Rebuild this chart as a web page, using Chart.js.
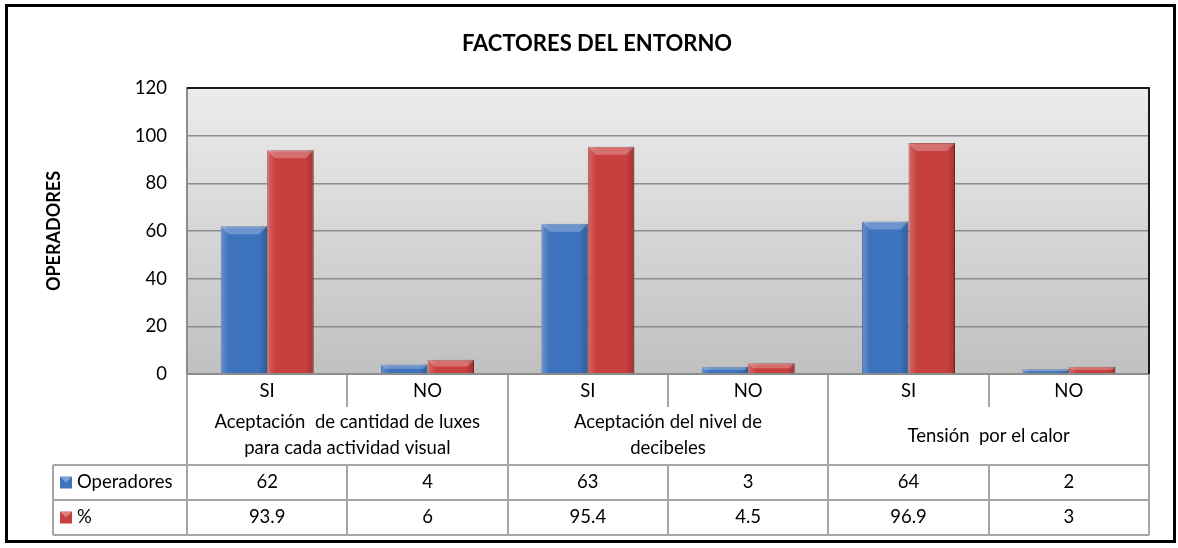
<!DOCTYPE html>
<html>
<head>
<meta charset="utf-8">
<script src="https://cdn.jsdelivr.net/npm/chart.js@4.4.1/dist/chart.umd.min.js"></script>
<style>
html, body { margin: 0; padding: 0; background: #fff; }
canvas { display: block; }
</style>
</head>
<body>
<canvas id="chart" width="1178" height="548"></canvas>
<script>
var categories = ["SI", "NO", "SI", "NO", "SI", "NO"];
var groups = [
    ["Aceptación  de cantidad de luxes", "para cada actividad visual"],
    ["Aceptación del nivel de", "decibeles"],
    ["Tensión  por el calor"]
];
var seriesNames = ["Operadores", "%"];
var operadores = [62, 4, 63, 3, 64, 2];
var porcentaje = [93.9, 6, 95.4, 4.5, 96.9, 3];
var yTicks = [0, 20, 40, 60, 80, 100, 120];

var FONT = "Lato, 'Open Sans', sans-serif";
var TXT = 18.5;
var seriesColors = ["#3d72bd", "#c8403e"];
var seriesBorders = ["#2a5995", "#8e2a29"];

// background, bar bevels, data table and frame
var excelLook = {
    id: 'excelLook',
    beforeDraw: function (chart) {
        var c = chart.ctx, a = chart.chartArea;
        c.save();
        c.fillStyle = '#fff';
        c.fillRect(0, 0, chart.width, chart.height);
        var g = c.createLinearGradient(0, a.top, 0, a.bottom);
        g.addColorStop(0, '#ececec');
        g.addColorStop(1, '#c0c0c0');
        c.fillStyle = g;
        c.fillRect(a.left, a.top, a.right - a.left, a.bottom - a.top);
        c.restore();
    },
    afterDatasetsDraw: function (chart) {
        var c = chart.ctx;
        c.save();
        chart.data.datasets.forEach(function (ds, di) {
            chart.getDatasetMeta(di).data.forEach(function (bar) {
                var p = bar.getProps(['x', 'y', 'base', 'width'], true);
                var l = p.x - p.width / 2, r = p.x + p.width / 2, t = p.y, h = p.base - p.y;
                var g = c.createLinearGradient(l, 0, r, 0);
                g.addColorStop(0, 'rgba(255,255,255,0.22)');
                g.addColorStop(0.18, 'rgba(255,255,255,0)');
                g.addColorStop(0.82, 'rgba(0,0,0,0)');
                g.addColorStop(1, 'rgba(0,0,0,0.2)');
                c.fillStyle = g;
                c.fillRect(l, t, p.width, h);
                var bv = Math.min(8, h / 2);
                c.fillStyle = 'rgba(255,255,255,0.25)';
                c.beginPath();
                c.moveTo(l, t); c.lineTo(r, t); c.lineTo(r - bv, t + bv); c.lineTo(l + bv, t + bv);
                c.closePath();
                c.fill();
            });
        });
        c.restore();
    },
    afterDraw: function (chart) {
        var c = chart.ctx, a = chart.chartArea, x = chart.scales.x;
        var half = (x.getPixelForValue(1) - x.getPixelForValue(0)) / 2;
        var y0 = a.bottom, yTick = y0 + 33, yGroup = y0 + 91, yRow1 = y0 + 126, yRow2 = y0 + 161;
        var tableLeft = 53;
        c.save();

        // table lines
        c.strokeStyle = '#a6a6a6';
        c.lineWidth = 2;
        c.beginPath();
        for (var i = 0; i <= categories.length; i++) {
            var bx = Math.round(x.getPixelForValue(0) - half + i * 2 * half);
            if (i % 2 === 0) {
                c.moveTo(bx, y0); c.lineTo(bx, yRow2);
            } else {
                c.moveTo(bx, y0); c.lineTo(bx, yTick);
                c.moveTo(bx, yGroup); c.lineTo(bx, yRow2);
            }
        }
        c.moveTo(tableLeft, yGroup); c.lineTo(tableLeft, yRow2);
        [yGroup, yRow1, yRow2].forEach(function (yy) {
            c.moveTo(tableLeft, yy); c.lineTo(a.right, yy);
        });
        c.stroke();

        // plot borders
        c.strokeStyle = '#8c8c8c';
        c.beginPath();
        c.moveTo(a.left, a.bottom); c.lineTo(a.right, a.bottom);
        c.stroke();
        c.strokeStyle = '#1a1a1a';
        c.beginPath();
        c.moveTo(a.left, a.top); c.lineTo(a.right, a.top); c.lineTo(a.right, a.bottom);
        c.stroke();

        // group labels
        c.fillStyle = '#000';
        c.font = TXT + 'px ' + FONT;
        c.textAlign = 'center';
        c.textBaseline = 'middle';
        groups.forEach(function (lines, gi) {
            var cx = (x.getPixelForValue(gi * 2) + x.getPixelForValue(gi * 2 + 1)) / 2;
            if (lines.length === 1) {
                c.fillText(lines[0], cx, y0 + 62);
            } else {
                c.fillText(lines[0], cx, y0 + 48);
                c.fillText(lines[1], cx, y0 + 74);
            }
        });

        // data rows
        var rows = [operadores, porcentaje];
        var rowY = [(yGroup + yRow1) / 2, (yRow1 + yRow2) / 2];
        rows.forEach(function (vals, ri) {
            vals.forEach(function (v, ci) {
                c.fillText(String(v), x.getPixelForValue(ci), rowY[ri]);
            });
            // legend key
            var kx = 60, ky = rowY[ri] - 6;
            c.fillStyle = seriesColors[ri];
            c.fillRect(kx, ky, 12, 12);
            c.fillStyle = 'rgba(255,255,255,0.35)';
            c.beginPath();
            c.moveTo(kx, ky); c.lineTo(kx + 12, ky); c.lineTo(kx + 6, ky + 6);
            c.closePath();
            c.fill();
            c.fillStyle = '#000';
            c.textAlign = 'left';
            c.fillText(seriesNames[ri], kx + 17, rowY[ri]);
            c.textAlign = 'center';
        });

        // title
        c.font = 'bold 22px ' + FONT;
        c.fillText('FACTORES DEL ENTORNO', 597, 44);

        // outer frame
        c.strokeStyle = '#000';
        c.lineWidth = 3;
        c.strokeRect(6.5, 5.5, 1168, 536);
        c.restore();
    }
};

var ctx = document.getElementById('chart').getContext('2d');
var chart = new Chart(ctx, {
    type: 'bar',
    data: {
        labels: categories,
        datasets: [{
            label: seriesNames[0],
            data: operadores,
            backgroundColor: seriesColors[0],
            borderColor: seriesBorders[0],
            borderWidth: 1
        }, {
            label: seriesNames[1],
            data: porcentaje,
            backgroundColor: seriesColors[1],
            borderColor: seriesBorders[1],
            borderWidth: 1
        }]
    },
    options: {
        responsive: false,
        animation: false,
        layout: { padding: { top: 88, left: 0, right: 29, bottom: 0 } },
        datasets: { bar: { categoryPercentage: 0.58, barPercentage: 1 } },
        plugins: {
            legend: { display: false },
            tooltip: { enabled: false }
        },
        scales: {
            x: {
                grid: { display: false, drawTicks: false },
                border: { display: false },
                ticks: { color: '#000', padding: 6, font: { family: FONT, size: TXT } },
                afterFit: function (s) { s.height = 174; }
            },
            y: {
                min: yTicks[0],
                max: yTicks[yTicks.length - 1],
                ticks: { stepSize: yTicks[1] - yTicks[0], color: '#000', padding: 20, font: { family: FONT, size: TXT } },
                grid: { color: '#8c8c8c', lineWidth: 1.5, drawTicks: false },
                border: { display: true, color: '#8c8c8c', width: 2 },
                title: {
                    display: true,
                    text: 'OPERADORES',
                    color: '#000',
                    font: { family: FONT, size: 18, weight: 'bold' },
                    padding: { top: 43, bottom: 0 }
                },
                afterFit: function (s) { s.width = 187; }
            }
        }
    },
    plugins: [excelLook]
});
</script>
</body>
</html>
